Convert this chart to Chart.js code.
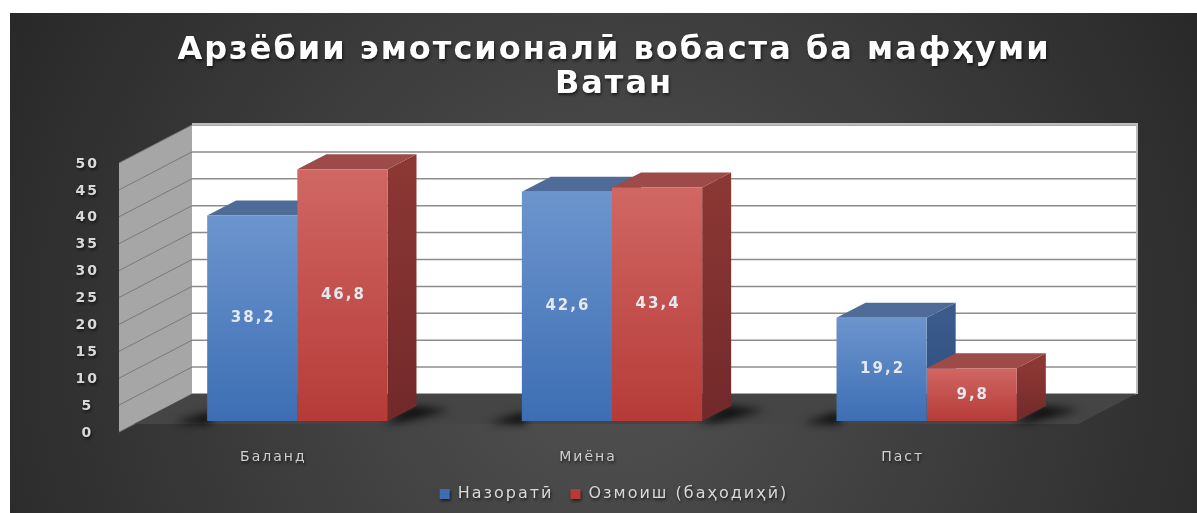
<!DOCTYPE html>
<html>
<head>
<meta charset="utf-8">
<script src="https://cdn.jsdelivr.net/npm/chart.js@4.4.1/dist/chart.umd.min.js"></script>
<style>
  html, body { margin: 0; padding: 0; background: #fff; }
  #wrap { width: 1197px; height: 513px; }
</style>
</head>
<body>
<div id="wrap"><canvas id="chartEmotions"></canvas></div>
<script>
const titleLines = ["Арзёбии эмотсионалӣ вобаста ба мафҳуми", "Ватан"];
const categories = ["Баланд", "Миёна", "Паст"];
const seriesNames = ["Назоратӣ", "Озмоиш (баҳодиҳӣ)"];
const controlValues = [38.2, 42.6, 19.2];
const experimentValues = [46.8, 43.4, 9.8];
const yTicks = [0, 5, 10, 15, 20, 25, 30, 35, 40, 45, 50];

// depth offsets of the fake 3D box (relative to the plane of the bar fronts)
const FRONT = { dx: -21, dy: 11 };
const BACK = { dx: 52, dy: -27 };
const BAR_DEPTH = { dx: 29, dy: -15 };

const seriesStyle = [
  { light: "#6c95cd", dark: "#3d6eb4", solid: "#4a7cc0", top: "#4f6c99", side: "#3a5b8c", sideDark: "#2c4a78" },
  { light: "#d06763", dark: "#b63b38", solid: "#c0504d", top: "#9d4b49", side: "#8b3734", sideDark: "#72292a" },
];

const frontFace = (i) => (c) => {
  const st = seriesStyle[i];
  const chart = c.chart;
  if (!chart.chartArea || !c.parsed) return st.solid;
  const ys = chart.scales.y;
  const g = chart.ctx.createLinearGradient(0, ys.getPixelForValue(c.parsed.y), 0, ys.getPixelForValue(0));
  g.addColorStop(0, st.light);
  g.addColorStop(1, st.dark);
  return g;
};

const poly = (ctx, pts, fill) => {
  ctx.beginPath();
  ctx.moveTo(pts[0][0], pts[0][1]);
  for (let k = 1; k < pts.length; k++) ctx.lineTo(pts[k][0], pts[k][1]);
  ctx.closePath();
  ctx.fillStyle = fill;
  ctx.fill();
};

const scene3d = {
  id: "scene3d",
  beforeUpdate(chart) {
    chart.ctx.letterSpacing = "2px";
  },
  beforeDraw(chart) {
    const { ctx, width, height } = chart;
    ctx.save();
    ctx.fillStyle = "#ffffff";
    ctx.fillRect(0, 0, width, height);
    const g = ctx.createRadialGradient(610, 340, 10, 610, 340, 720);
    g.addColorStop(0, "#525252");
    g.addColorStop(1, "#262626");
    ctx.fillStyle = g;
    ctx.fillRect(10, 13, width - 10, height - 13);
    ctx.restore();
    ctx.letterSpacing = "2px";
    ctx.shadowColor = "rgba(0,0,0,0.6)";
    ctx.shadowBlur = 3;
    ctx.shadowOffsetX = 1;
    ctx.shadowOffsetY = 2;
  },
  beforeDatasetsDraw(chart) {
    const ctx = chart.ctx;
    ctx.shadowColor = "transparent";
    ctx.shadowBlur = 0;
    ctx.shadowOffsetX = 0;
    ctx.shadowOffsetY = 0;
    const ys = chart.scales.y;
    const L = chart.chartArea.left, R = chart.chartArea.right;
    const y0 = ys.getPixelForValue(0), yT = ys.getPixelForValue(ys.max);
    ctx.save();

    // back wall
    poly(ctx, [[L + BACK.dx, yT + BACK.dy], [R + BACK.dx, yT + BACK.dy], [R + BACK.dx, y0 + BACK.dy], [L + BACK.dx, y0 + BACK.dy]], "#ffffff");
    ctx.strokeStyle = "#8c8c8c";
    ctx.lineWidth = 1.5;
    ys.ticks.forEach((t) => {
      const py = ys.getPixelForValue(t.value) + BACK.dy;
      ctx.beginPath();
      ctx.moveTo(L + BACK.dx, py);
      ctx.lineTo(R + BACK.dx, py);
      ctx.stroke();
    });
    ctx.strokeStyle = "#bdbdbd";
    ctx.lineWidth = 2;
    ctx.beginPath();
    ctx.moveTo(R + BACK.dx + 1, y0 + BACK.dy);
    ctx.lineTo(R + BACK.dx + 1, yT + BACK.dy - 1);
    ctx.lineTo(L + BACK.dx, yT + BACK.dy - 1);
    ctx.stroke();

    // side wall
    poly(ctx, [[L + FRONT.dx, yT + FRONT.dy], [L + BACK.dx, yT + BACK.dy], [L + BACK.dx, y0 + BACK.dy], [L + FRONT.dx, y0 + FRONT.dy]], "#a6a6a6");
    ctx.strokeStyle = "#7a7a7a";
    ctx.lineWidth = 1;
    ys.ticks.forEach((t) => {
      const py = ys.getPixelForValue(t.value);
      ctx.beginPath();
      ctx.moveTo(L + FRONT.dx, py + FRONT.dy);
      ctx.lineTo(L + BACK.dx, py + BACK.dy);
      ctx.stroke();
    });

    // floor (visible from the back wall to the bar fronts)
    const f = 0.27;
    poly(ctx, [[L + FRONT.dx * f, y0 + FRONT.dy * f], [R + FRONT.dx * f, y0 + FRONT.dy * f], [R + BACK.dx, y0 + BACK.dy], [L + BACK.dx, y0 + BACK.dy]], "#454545");

    // soft shadows of each bar group on the floor
    const m0 = chart.getDatasetMeta(0).data, m1 = chart.getDatasetMeta(1).data;
    ctx.filter = "blur(4px)";
    m0.forEach((b, k) => {
      const left = b.x - b.width / 2, right = m1[k].x + m1[k].width / 2, base = b.base;
      poly(ctx, [[left - 34, base + 2], [left + 4, base - 9], [left + 4, base + 3]], "rgba(0,0,0,0.85)");
      poly(ctx, [[right + BAR_DEPTH.dx - 4, base + BAR_DEPTH.dy], [right + BAR_DEPTH.dx + 34, base + BAR_DEPTH.dy + 4], [right + 14, base + 1], [right - 4, base + 2]], "rgba(0,0,0,0.8)");
    });
    ctx.filter = "none";

    // tops and sides of the bars
    [0, 1].forEach((i) => {
      const st = seriesStyle[i];
      chart.getDatasetMeta(i).data.forEach((b) => {
        const left = b.x - b.width / 2, right = b.x + b.width / 2;
        const g = ctx.createLinearGradient(0, b.y, 0, b.base);
        g.addColorStop(0, st.side);
        g.addColorStop(1, st.sideDark);
        poly(ctx, [[right, b.y], [right + BAR_DEPTH.dx, b.y + BAR_DEPTH.dy], [right + BAR_DEPTH.dx, b.base + BAR_DEPTH.dy], [right, b.base]], g);
        poly(ctx, [[left, b.y], [right, b.y], [right + BAR_DEPTH.dx, b.y + BAR_DEPTH.dy], [left + BAR_DEPTH.dx, b.y + BAR_DEPTH.dy]], st.top);
      });
    });
    ctx.restore();
  },
  afterDatasetsDraw(chart) {
    const ctx = chart.ctx;
    ctx.save();
    ctx.letterSpacing = "2px";
    ctx.font = "bold 15px 'DejaVu Sans'";
    ctx.fillStyle = "#e4e9f0";
    ctx.textAlign = "center";
    ctx.textBaseline = "middle";
    chart.data.datasets.forEach((ds, i) => {
      chart.getDatasetMeta(i).data.forEach((b, k) => {
        ctx.fillText(ds.data[k].toFixed(1).replace(".", ","), b.x + 1, (b.y + b.base) / 2);
      });
    });
    ctx.restore();
  },
};

const ctx = document.getElementById("chartEmotions").getContext("2d");
const myChart = new Chart(ctx, {
  type: "bar",
  data: {
    labels: categories,
    datasets: [
      { label: seriesNames[0], data: controlValues, backgroundColor: frontFace(0) },
      { label: seriesNames[1], data: experimentValues, backgroundColor: frontFace(1) },
    ],
  },
  options: {
    maintainAspectRatio: false,
    animation: false,
    datasets: { bar: { barPercentage: 1, categoryPercentage: 0.573, borderWidth: 0 } },
    layout: { padding: { left: 10, top: 13, right: -21, bottom: 1 } },
    scales: {
      x: {
        grid: { display: false, drawTicks: false },
        border: { display: false },
        ticks: { color: "#d0d0d0", font: { family: "DejaVu Sans", size: 14 }, padding: 28, labelOffset: -24 },
        afterFit: (s) => { s.height = 48; },
      },
      y: {
        min: yTicks[0],
        max: yTicks[yTicks.length - 1],
        grid: { display: false, drawTicks: false },
        border: { display: false },
        afterBuildTicks: (s) => { s.ticks = yTicks.map((v) => ({ value: v })); },
        ticks: { color: "#d9d9d9", font: { family: "DejaVu Sans", size: 14, weight: "bold" }, padding: 41, labelOffset: 12, crossAlign: "center" },
        afterFit: (s) => { s.width = 130; },
      },
      y2: {
        position: "right",
        min: 0,
        max: 50,
        grid: { display: false, drawTicks: false },
        border: { display: false },
        ticks: { display: false },
        afterFit: (s) => { s.width = 134; },
      },
    },
    plugins: {
      title: {
        display: true,
        text: titleLines,
        color: "#ffffff",
        font: { family: "DejaVu Sans", size: 32, weight: "bold", lineHeight: "34px" },
        padding: { top: 21, bottom: 50 },
      },
      legend: {
        position: "bottom",
        labels: {
          color: "#d9d9d9",
          font: { family: "DejaVu Sans", size: 16 },
          boxWidth: 10,
          boxHeight: 10,
          padding: 17,
        },
      },
      tooltip: { enabled: false },
    },
  },
  plugins: [scene3d],
});
</script>
</body>
</html>
